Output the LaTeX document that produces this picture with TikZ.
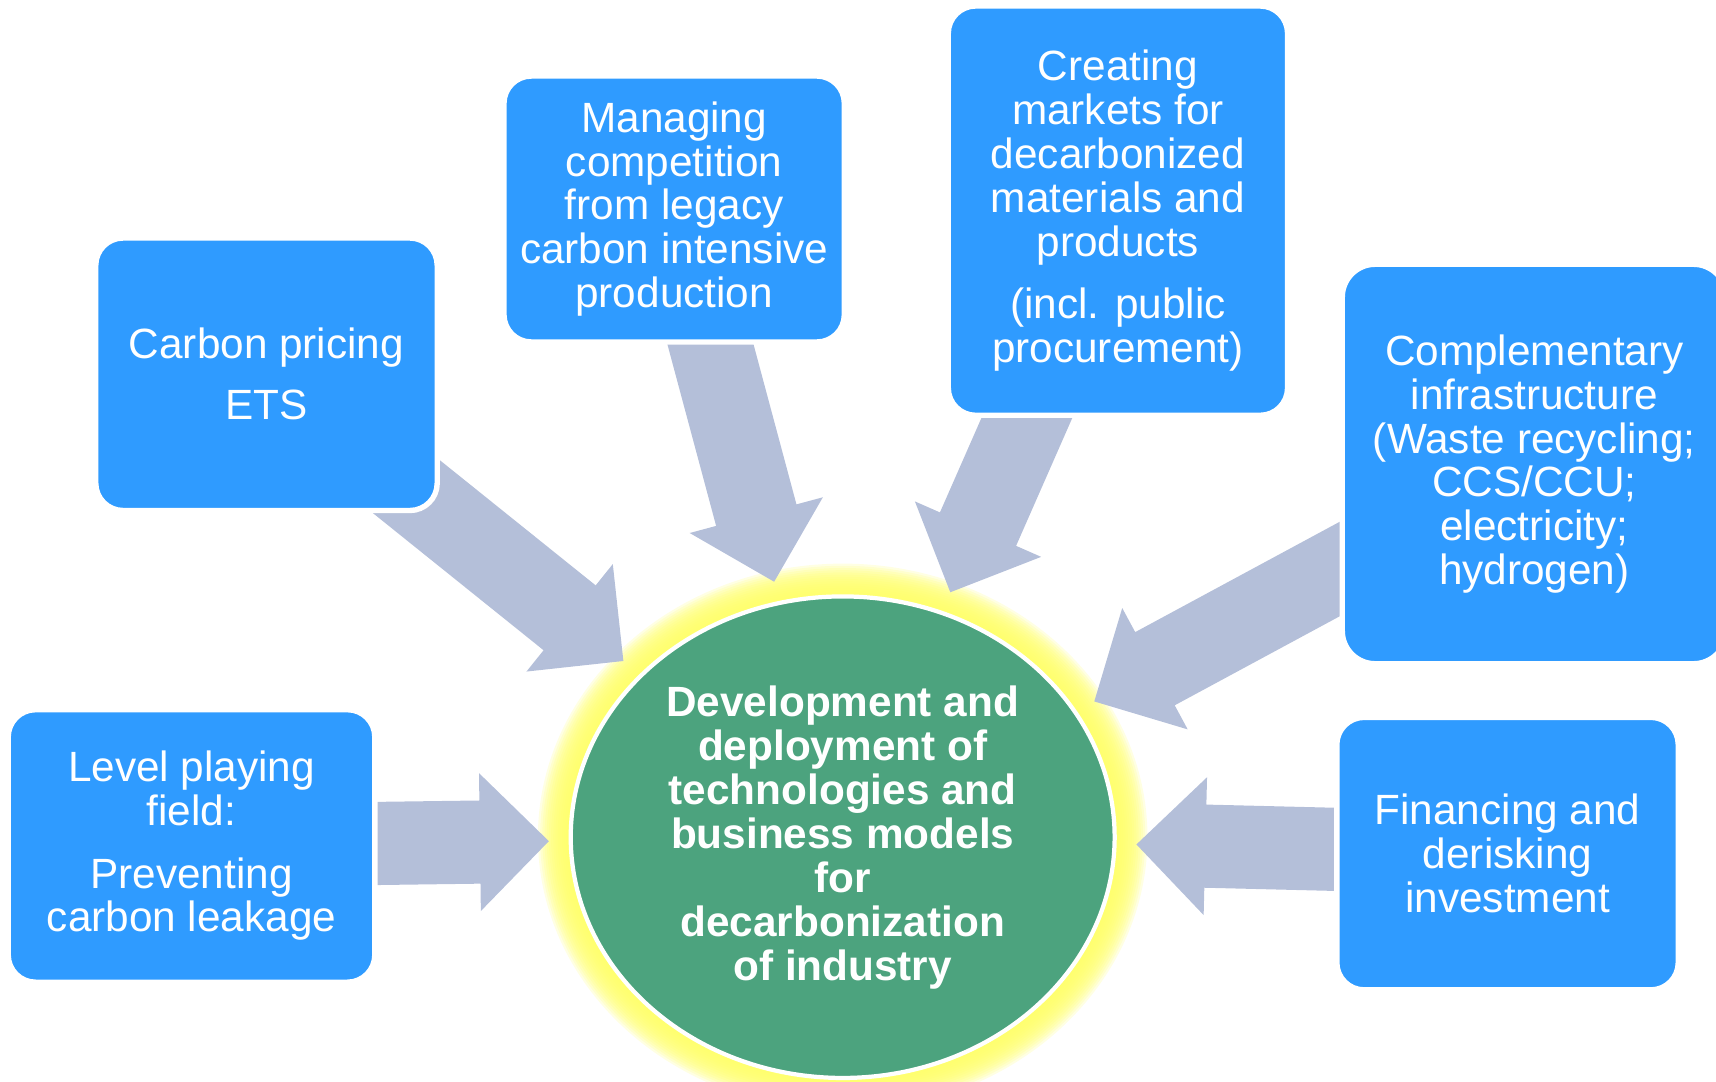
\documentclass[tikz,border=0pt]{standalone}
\usepackage{fontspec}
\setmainfont{Liberation Sans}
\usepackage{tikz}
\usetikzlibrary{calc,shapes.geometric,backgrounds}
\definecolor{PolicyBlue}{HTML}{2F9BFF}
\definecolor{HubGreen}{HTML}{4CA37E}
\definecolor{FlowGray}{HTML}{B4BFD9}
\definecolor{GlowYellow}{HTML}{FFFF66}
\newcommand\blockarrow[3]{% source, target, tip
  \path (#1.center) -- coordinate[pos=1] (#3) (#2);
  \path let \p1=(#1.center), \p2=(#3), \n1={atan2(\y2-\y1,\x2-\x1)}, \n2={veclen(\x2-\x1,\y2-\y1)} in \pgfextra{\xdef\flowang{\n1}\xdef\flowlen{\n2}};
  \begin{scope}[shift={(#1.center)},rotate=\flowang]
    \fill[FlowSty] (0pt,-\shaftw) -- ({\flowlen-\headl},-\shaftw) -- ({\flowlen-\headl},-\headw) -- ({\flowlen+0pt},0pt) -- ({\flowlen-\headl},\headw) -- ({\flowlen-\headl},\shaftw) -- (0pt,\shaftw) -- cycle;
  \end{scope}
}

\begin{document}
\begin{tikzpicture}
		\tikzstyle{PolicySty}=[rectangle,rounded corners=0.25cm,fill=PolicyBlue,draw=white,line width=1.4pt,
				      text=white,align=center,inner sep=0pt,font=\fontsize{11pt}{11.4pt}\selectfont]
		\tikzstyle{HubSty}=[ellipse,fill=HubGreen,draw=white,line width=1.1pt,text=white,align=center,
				      inner sep=0pt,outer sep=0.2cm,minimum width=4.97cm,minimum height=4.40cm,
				      font=\fontsize{11pt}{11.45pt}\selectfont\bfseries]
		\tikzstyle{FlowSty}=[fill=FlowGray]
		\tikzstyle{GlowSty}=[fill=GlowYellow,opacity=0.18]

\def\shaftw{0.38cm}
\def\headw{0.63cm}
\def\headl{0.63cm}

\useasboundingbox (0,0) rectangle (15.68,9.88);

\node[HubSty] (hub) at (7.70,2.23) {Development and\\deployment of\\technologies and\\business models\\for\\decarbonization\\of industry};

\node[PolicySty,minimum width=3.12cm,minimum height=2.49cm,xshift=-5.265cm,yshift=4.23cm] at (hub) (carbon) {Carbon pricing\\[4.5pt]ETS};
\node[PolicySty,minimum width=3.11cm,minimum height=2.43cm,xshift=-1.54cm,yshift=5.74cm] at (hub) (legacy) {Managing\\competition\\from legacy\\carbon intensive\\production};
\node[PolicySty,minimum width=3.10cm,minimum height=3.74cm,xshift=2.515cm,yshift=5.725cm] at (hub) (markets) {Creating\\markets for\\decarbonized\\materials and\\products\\[4.8pt](incl. public\\procurement)};
\node[PolicySty,minimum width=3.51cm,minimum height=3.65cm,rounded corners=0.3cm,xshift=6.32cm,yshift=3.41cm] at (hub) (infra) {Complementary\\infrastructure\\(Waste recycling;\\CCS/CCU;\\electricity;\\hydrogen)};
\node[PolicySty,minimum width=3.35cm,minimum height=2.49cm,xshift=-5.95cm,yshift=-0.08cm] at (hub) (level) {Level playing\\field:\\[4.8pt]Preventing\\carbon leakage};
\node[PolicySty,minimum width=3.12cm,minimum height=2.49cm,xshift=6.075cm,yshift=-0.15cm] at (hub) (finance) {Financing and\\derisking\\investment};

\begin{pgfonlayer}{background}
  % glow round the hub
  \foreach \g in {0.02,0.04,...,0.30}
  {
    \fill[GlowSty] (hub.center) ellipse [x radius=2.485cm+\g cm, y radius=2.20cm+\g cm];
  }
  \blockarrow{carbon}{hub}{tipcarbon}
  \blockarrow{legacy}{hub}{tiplegacy}
  \blockarrow{markets}{hub}{tipmarkets}
  \blockarrow{infra}{hub}{tipinfra}
  \blockarrow{level}{hub}{tiplevel}
  \blockarrow{finance}{hub}{tipfinance}
\end{pgfonlayer}

\end{tikzpicture}
\end{document}
